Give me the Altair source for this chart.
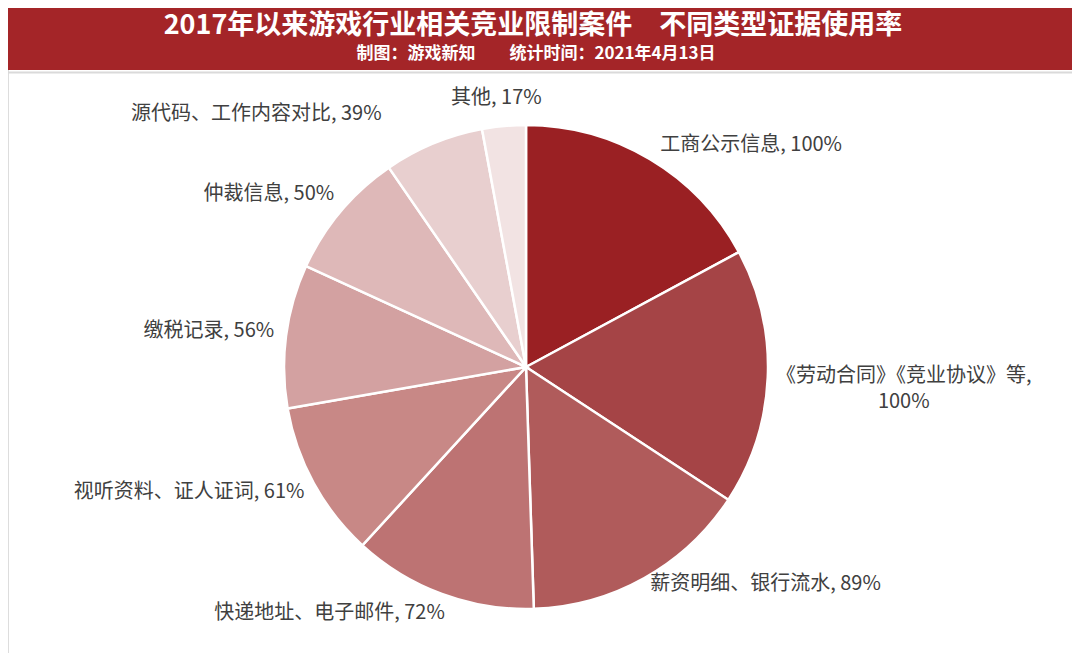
import altair as alt
import pandas as pd
import math

title_text = "2017年以来游戏行业相关竞业限制案件\u3000不同类型证据使用率"
subtitle_text = "制图：游戏新知\u3000\u3000统计时间：2021年4月13日"

categories = ["工商公示信息", "《劳动合同》《竞业协议》等", "薪资明细、银行流水", "快递地址、电子邮件",
              "视听资料、证人证词", "缴税记录", "仲裁信息", "源代码、工作内容对比", "其他"]
values = [100, 100, 89, 72, 61, 56, 50, 39, 17]
colors = ["#9A2023", "#A54446", "#B05B5B", "#BD7373", "#C88886", "#D3A1A1", "#DEB8B8", "#E8CFCF", "#F2E3E3"]
groups = ["right", "mid2", "right2", "left", "left", "left", "left", "leftup", "top"]

total = sum(values)
rows = []
cum = 0
for i, (c, v) in enumerate(zip(categories, values)):
    mid = (cum + v / 2) / total * 360
    cum += v
    sep = ",\n" if len(c) > 12 else ", "
    rows.append({"idx": i, "cat": c, "value": v, "mid": mid, "group": groups[i],
                 "label": f"{c}{sep}{v}%"})
df = pd.DataFrame(rows)

W, H = 1064, 645
CX, CY = 518, 359
FONT = "Noto Sans CJK SC"

base = alt.Chart(df)

pie = base.mark_arc(radius=242, stroke="white", strokeWidth=2.5).encode(
    theta=alt.Theta("value:Q", stack=True),
    color=alt.Color("cat:N", scale=alt.Scale(domain=categories, range=colors), legend=None),
    order=alt.Order("idx:Q"),
    x=alt.value(CX), y=alt.value(CY),
)

theta_enc = alt.Theta("mid:Q", stack=None, scale=alt.Scale(domain=[0, 360], range=[0, 2 * math.pi]))

def label_layer(group, align, radius, dx=0, dy=0):
    return base.transform_filter(alt.datum.group == group).mark_text(
        radius=radius, align=align, baseline="middle", font=FONT, fontSize=20,
        color="#404040", dx=dx, dy=dy, lineBreak="\n", lineHeight=26,
    ).encode(theta=theta_enc, text="label:N", x=alt.value(CX), y=alt.value(CY))

labels = [
    label_layer("right", "left", 262, dy=3),
    label_layer("right2", "left", 262, dx=-4, dy=-12),
    label_layer("mid2", "center", 260, dx=118, dy=-2),
    label_layer("left", "right", 265, dx=11, dy=-2),
    label_layer("leftup", "right", 265, dx=-43, dy=-8),
    label_layer("top", "center", 270, dx=-5),
]

band = alt.Chart(pd.DataFrame({"a": [0]})).mark_rect(color="#A42528").encode(
    x=alt.value(-8), x2=alt.value(W + 8), y=alt.value(-8), y2=alt.value(62))
line = alt.Chart(pd.DataFrame({"a": [0]})).mark_rule(color="#DADADA", strokeWidth=2).encode(
    x=alt.value(-8), x2=alt.value(W + 8), y=alt.value(64.5))
title = alt.Chart(pd.DataFrame({"t": [title_text]})).mark_text(
    font=FONT, fontSize=27, fontWeight="bold", color="white", align="center", baseline="middle"
).encode(text="t:N", x=alt.value(525), y=alt.value(18))
subtitle = alt.Chart(pd.DataFrame({"t": [subtitle_text]})).mark_text(
    font=FONT, fontSize=17, fontWeight="bold", color="white", align="center", baseline="middle"
).encode(text="t:N", x=alt.value(528), y=alt.value(46))

chart = alt.layer(band, line, title, subtitle, pie, *labels).resolve_scale(
    theta="independent"
).properties(
    width=W, height=H, autosize=alt.AutoSizeParams(type="none"), padding=0,
).configure_view(stroke=None).configure(background="white")

chart.save("out.html", embed_options={"renderer": "svg", "actions": False})
